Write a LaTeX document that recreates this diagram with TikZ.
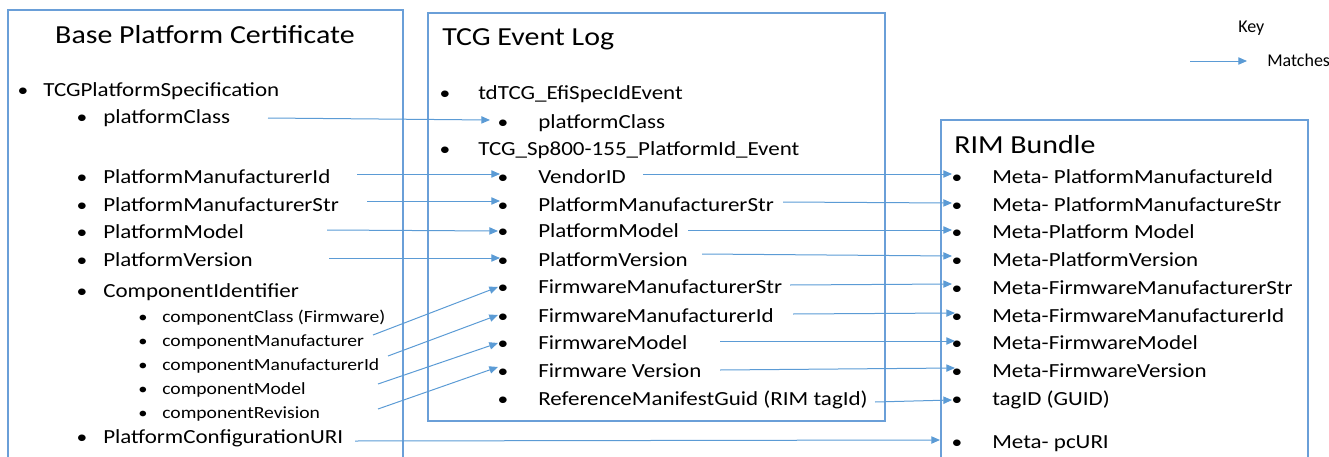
\documentclass[tikz,border=0pt]{standalone}
\usepackage{fontspec}
\setmainfont{Carlito}[FakeStretch=1.15]
\newfontfamily\keyfont{Carlito}
\usetikzlibrary{arrows.meta}
\definecolor{lineblue}{HTML}{5B9BD5}
\definecolor{boxblue}{HTML}{6A9FD8}
\begin{document}
\begin{tikzpicture}[x=0.75pt,y=-0.75pt,
 box/.style={draw=boxblue,line width=1.1pt},
 conn/.style={draw=lineblue,line width=0.75pt,-{Triangle[length=6.5pt,width=5.5pt]}},
 title/.style={font=\fontsize{19.5}{22}\selectfont,inner sep=0,anchor=base west},
 item/.style={font=\fontsize{15}{18}\selectfont,inner sep=0,anchor=base west},
 sub/.style={font=\fontsize{12.8}{15}\selectfont,inner sep=0,anchor=base west},
 bul/.style={font=\fontsize{14}{18}\selectfont,inner sep=0,anchor=base},
 sbul/.style={font=\fontsize{12}{15}\selectfont,inner sep=0,anchor=base},
 keyt/.style={font=\keyfont\fontsize{13.5}{16}\selectfont,inner sep=0,anchor=base west},
]
\useasboundingbox (0,0) rectangle (1329,457);
\clip (0,0) rectangle (1329,457);

% boxes
\draw[box] (8,10) rectangle (403,470);
\draw[box] (428,13) rectangle (885,421);
\draw[box] (941,120) rectangle (1308,470);

% left box
\node[title,anchor=base] (bpc) at (205,43) {Base Platform Certificate};
\node[bul] (lb1) at (23,96) {•};  \node[item] (l1) at (43,96) {TCGPlatformSpecification};
\node[bul] (lb2) at (82,123) {•}; \node[item] (l2) at (103,123) {platformClass};
\node[bul] (lb3) at (82,183) {•}; \node[item] (l3) at (103,183) {PlatformManufacturerId};
\node[bul] (lb4) at (82,211) {•}; \node[item] (l4) at (103,211) {PlatformManufacturerStr};
\node[bul] (lb5) at (82,238) {•}; \node[item] (l5) at (103,238) {PlatformModel};
\node[bul] (lb6) at (82,266) {•}; \node[item] (l6) at (103,266) {PlatformVersion};
\node[bul] (lb7) at (82,297) {•}; \node[item] (l7) at (103,297) {ComponentIdentifier};
\node[sbul] (sb1) at (143,322) {•}; \node[sub] (s1) at (162,322) {componentClass (Firmware)};
\node[sbul] (sb2) at (143,346) {•}; \node[sub] (s2) at (162,346) {componentManufacturer};
\node[sbul] (sb3) at (143,370) {•}; \node[sub] (s3) at (162,370) {componentManufacturerId};
\node[sbul] (sb4) at (143,394) {•}; \node[sub] (s4) at (162,394) {componentModel};
\node[sbul] (sb5) at (143,418) {•}; \node[sub] (s5) at (162,418) {componentRevision};
\node[bul] (lb8) at (82,443) {•}; \node[item] (l8) at (103,443) {PlatformConfigurationURI};

% middle box
\node[title] (tel) at (442,45) {TCG Event Log};
\node[bul] (mb1) at (445,99) {•};  \node[item] (m1) at (478,99) {tdTCG\_EfiSpecIdEvent};
\node[bul] (mb2) at (503,128) {•}; \node[item] (m2) at (538,128) {platformClass};
\node[bul] (mb3) at (445,155) {•}; \node[item] (m3) at (478,155) {TCG\_Sp800-155\_PlatformId\_Event};
\node[bul] (mb4) at (503,183) {•}; \node[item] (m4) at (538,183) {VendorID};
\node[bul] (mb5) at (503,211) {•}; \node[item] (m5) at (538,211) {PlatformManufacturerStr};
\node[bul] (mb6) at (503,237) {•}; \node[item] (m6) at (538,237) {PlatformModel};
\node[bul] (mb7) at (503,266) {•}; \node[item] (m7) at (538,266) {PlatformVersion};
\node[bul] (mb8) at (503,293) {•}; \node[item] (m8) at (538,293) {FirmwareManufacturerStr};
\node[bul] (mb9) at (503,322) {•}; \node[item] (m9) at (538,322) {FirmwareManufacturerId};
\node[bul] (mb10) at (503,349) {•}; \node[item] (m10) at (538,349) {FirmwareModel};
\node[bul] (mb11) at (503,377) {•}; \node[item] (m11) at (538,377) {Firmware Version};
\node[bul] (mb12) at (503,405) {•}; \node[item] (m12) at (538,405) {ReferenceManifestGuid (RIM tagId)};

% right box
\node[title] (rim) at (954,153) {RIM Bundle};
\node[bul] (rb1) at (957,183) {•}; \node[item] (r1) at (992,183) {Meta- PlatformManufactureId};
\node[bul] (rb2) at (957,211) {•}; \node[item] (r2) at (992,211) {Meta- PlatformManufactureStr};
\node[bul] (rb3) at (957,238) {•}; \node[item] (r3) at (992,238) {Meta-Platform Model};
\node[bul] (rb4) at (957,266) {•}; \node[item] (r4) at (992,266) {Meta-PlatformVersion};
\node[bul] (rb5) at (957,294) {•}; \node[item] (r5) at (992,294) {Meta-FirmwareManufacturerStr};
\node[bul] (rb6) at (957,322) {•}; \node[item] (r6) at (992,322) {Meta-FirmwareManufacturerId};
\node[bul] (rb7) at (957,349) {•}; \node[item] (r7) at (992,349) {Meta-FirmwareModel};
\node[bul] (rb8) at (957,377) {•}; \node[item] (r8) at (992,377) {Meta-FirmwareVersion};
\node[bul] (rb9) at (957,405) {•}; \node[item] (r9) at (992,405) {tagID (GUID)};
\node[bul] (rb10) at (957,448) {•}; \node[item] (r10) at (992,448) {Meta- pcURI};

% key
\node[keyt] (key) at (1238,32) {Key};
\node[keyt] (matches) at (1267,66) {Matches};
\coordinate (k-a) at (1190,61);
\coordinate (k-b) at (1247,61);
\draw[conn] (k-a) -- (k-b);

% connector end points
\coordinate (c1a) at (268,118);  \coordinate (c1b) at (490,120);
\coordinate (c2a) at (357,174);  \coordinate (c2b) at (500,174);
\coordinate (c3a) at (367,201);  \coordinate (c3b) at (500,201);
\coordinate (c4a) at (327,230);  \coordinate (c4b) at (498,231);
\coordinate (c5a) at (329,258);  \coordinate (c5b) at (500,258);
\coordinate (c6a) at (373,335);  \coordinate (c6b) at (498,287);
\coordinate (c7a) at (388,356);  \coordinate (c7b) at (498,315);
\coordinate (c8a) at (378,384);  \coordinate (c8b) at (498,343);
\coordinate (c9a) at (378,409);  \coordinate (c9b) at (498,367);
\coordinate (c10a) at (355,441); \coordinate (c10b) at (940,440);
\coordinate (d1a) at (643,174);  \coordinate (d1b) at (952,174);
\coordinate (d2a) at (783,202);  \coordinate (d2b) at (952,203);
\coordinate (d3a) at (688,230);  \coordinate (d3b) at (952,230);
\coordinate (d4a) at (702,254);  \coordinate (d4b) at (952,256);
\coordinate (d5a) at (790,285);  \coordinate (d5b) at (952,284);
\coordinate (d6a) at (793,314);  \coordinate (d6b) at (955,313);
\coordinate (d7a) at (720,341);  \coordinate (d7b) at (955,341);
\coordinate (d8a) at (720,370);  \coordinate (d8b) at (955,368);
\coordinate (d9a) at (875,402);  \coordinate (d9b) at (952,400);

\foreach \n in {c1,c2,c3,c4,c5,c6,c7,c8,c9,c10,d1,d2,d3,d4,d5,d6,d7,d8,d9}
  \draw[conn] (\n a) -- (\n b);
\end{tikzpicture}
\end{document}
